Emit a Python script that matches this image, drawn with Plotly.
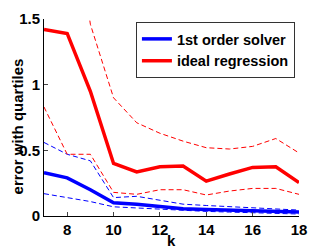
import plotly.graph_objects as go

k = [7, 8, 9, 10, 11, 12, 13, 14, 15, 16, 17, 18]

solver_med = [0.33, 0.29, 0.20, 0.10, 0.09, 0.07, 0.055, 0.05, 0.045, 0.04, 0.035, 0.03]
solver_hi = [0.56, 0.47, 0.42, 0.14, 0.15, 0.12, 0.09, 0.08, 0.07, 0.06, 0.05, 0.045]
solver_lo = [0.17, 0.14, 0.11, 0.07, 0.06, 0.05, 0.04, 0.035, 0.03, 0.025, 0.02, 0.015]

ideal_med = [1.42, 1.39, 0.95, 0.40, 0.335, 0.375, 0.38, 0.265, 0.32, 0.37, 0.375, 0.255]
ideal_hi = [2.7, 2.7, 1.46, 0.90, 0.71, 0.63, 0.57, 0.52, 0.51, 0.53, 0.59, 0.48]
ideal_lo = [0.83, 0.47, 0.47, 0.18, 0.165, 0.20, 0.20, 0.16, 0.19, 0.21, 0.21, 0.165]

x_ticks = [8, 10, 12, 14, 16, 18]
y_ticks = [0, 0.5, 1, 1.5]
y_tick_labels = ["0", "0.5", "1", "1.5"]

BLUE = "#0000ff"
RED = "#ff0000"
DASH = "5px,3px"

fig = go.Figure()
for y in (solver_hi, solver_lo):
    fig.add_trace(go.Scatter(x=k, y=y, mode="lines", showlegend=False,
                             line=dict(color=BLUE, width=1, dash=DASH)))
for y in (ideal_hi, ideal_lo):
    fig.add_trace(go.Scatter(x=k, y=y, mode="lines", showlegend=False,
                             line=dict(color=RED, width=1, dash=DASH)))
fig.add_trace(go.Scatter(x=k, y=solver_med, mode="lines", name="1st order solver",
                         line=dict(color=BLUE, width=3.5)))
fig.add_trace(go.Scatter(x=k, y=ideal_med, mode="lines", name="ideal regression",
                         line=dict(color=RED, width=3.5)))

FAM = "Liberation Sans, Arial, sans-serif"
font = dict(family=FAM, size=15, color="black", weight="bold")

# the page body has an 8px default margin, so the figure is offset by 8px
fig.update_layout(
    width=332, height=250,
    margin=dict(l=36, r=41, t=11, b=42, autoexpand=False),
    paper_bgcolor="white", plot_bgcolor="white",
    font=font,
    showlegend=True,
    legend=dict(x=0.984, y=0.985, xanchor="right", yanchor="top",
                bgcolor="white", bordercolor="#333333", borderwidth=1,
                font=dict(family=FAM, size=14.5, color="black", weight="bold"),
                tracegroupgap=0, itemwidth=30),
    xaxis=dict(range=[7, 18], tickvals=x_ticks, ticks="inside", ticklen=4,
               showline=True, linecolor="black", linewidth=1, mirror=False,
               showgrid=False, zeroline=False, automargin=False),
    yaxis=dict(range=[0, 1.5], tickvals=y_ticks, ticktext=y_tick_labels,
               ticks="inside", ticklen=4,
               showline=True, linecolor="black", linewidth=1, mirror=False,
               showgrid=False, zeroline=False, automargin=False),
    annotations=[
        dict(text="k", xref="paper", yref="paper", x=0.5, y=-0.122,
             xanchor="center", yanchor="middle", showarrow=False, font=font),
        dict(text="error with quartiles", xref="paper", yref="paper", x=-0.104, y=0.457,
             xanchor="center", yanchor="middle", textangle=-90, showarrow=False,
             borderpad=0, font=font),
    ],
)

fig.write_html("out.html")
